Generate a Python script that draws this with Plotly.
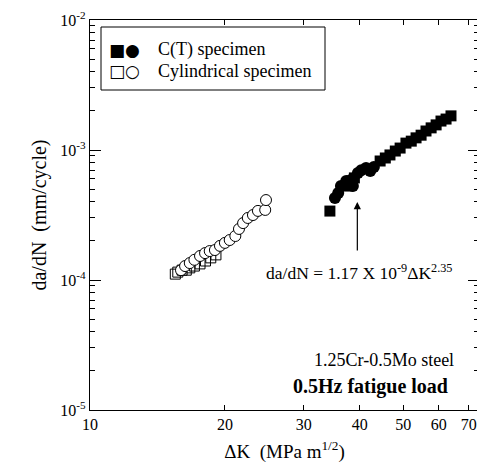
import plotly.graph_objects as go

# C(T) specimen (filled)
ct_sq_x = [34.3, 37.6, 38.9, 44.4, 45.6, 46.7, 48.0, 49.2, 50.7, 52.1, 53.4, 54.8, 56.2, 57.7, 59.2, 60.7, 62.3, 63.9]
ct_sq_y = [3.39e-4, 5.28e-4, 6.1e-4, 8.23e-4, 8.68e-4, 9.16e-4, 9.82e-4, 1.035e-3, 1.13e-3, 1.17e-3, 1.24e-3, 1.30e-3, 1.40e-3, 1.48e-3, 1.56e-3, 1.67e-3, 1.73e-3, 1.83e-3]
ct_ci_x = [35.2, 35.8, 36.3, 37.3, 38.2, 38.6, 39.6, 40.3, 41.3, 42.2, 43.0]
ct_ci_y = [4.28e-4, 4.67e-4, 5.28e-4, 5.78e-4, 5.88e-4, 5.28e-4, 6.65e-4, 7.0e-4, 7.27e-4, 6.89e-4, 7.4e-4]

# Cylindrical specimen (open)
cy_sq_x = [15.5, 15.7, 16.05, 16.4, 16.7, 17.1, 17.6, 18.1, 18.6, 19.1]
cy_sq_y = [1.11e-4, 1.15e-4, 1.19e-4, 1.19e-4, 1.24e-4, 1.28e-4, 1.33e-4, 1.40e-4, 1.48e-4, 1.56e-4]
cy_ci_x = [15.96, 16.3, 16.7, 17.1, 17.6, 18.06, 18.5, 19.0, 19.5, 20.0, 20.5, 21.1, 21.5, 21.96, 22.5, 23.1, 23.7, 24.6, 24.7]
cy_ci_y = [1.19e-4, 1.28e-4, 1.35e-4, 1.43e-4, 1.53e-4, 1.61e-4, 1.67e-4, 1.70e-4, 1.83e-4, 1.93e-4, 2.03e-4, 2.18e-4, 2.47e-4, 2.74e-4, 3.0e-4, 3.16e-4, 3.4e-4, 3.46e-4, 4.12e-4]

x_ticks = [10, 20, 30, 40, 50, 60, 70]
y_ticks = [1e-5, 1e-4, 1e-3, 1e-2]
y_ticktext = ["10<sup>-5</sup>", "10<sup>-4</sup>", "10<sup>-3</sup>", "10<sup>-2</sup>"]
y_minor = [m * 10.0 ** e for e in (-5, -4, -3) for m in range(2, 10)]

FONT = "Liberation Serif"
L, R, T, B = 82, 471, 12, 402
PW, PH = R - L, B - T


def px(xp):
    return (xp - L) / PW


def py(yp):
    return (B - yp) / PH


fig = go.Figure()
fig.add_trace(go.Scatter(x=cy_sq_x, y=cy_sq_y, mode="markers",
                         marker=dict(symbol="square-open", size=10, color="black", line=dict(width=1))))
fig.add_trace(go.Scatter(x=cy_ci_x, y=cy_ci_y, mode="markers",
                         marker=dict(symbol="circle", size=11, color="white", line=dict(width=1, color="black"))))
fig.add_trace(go.Scatter(x=ct_sq_x, y=ct_sq_y, mode="markers",
                         marker=dict(symbol="square", size=11, color="black")))
fig.add_trace(go.Scatter(x=ct_ci_x, y=ct_ci_y, mode="markers",
                         marker=dict(symbol="circle", size=12, color="black")))

fig.update_layout(
    width=485, height=471,
    margin=dict(l=L, r=485 - R, t=T, b=471 - B),
    paper_bgcolor="white", plot_bgcolor="white",
    showlegend=False,
    font=dict(family=FONT, color="black", size=16),
)
fig.update_xaxes(type="log", range=[1, 1.868], tickvals=x_ticks, ticktext=[str(v) for v in x_ticks],
                 ticks="inside", ticklen=5, tickcolor="black", showgrid=False, zeroline=False,
                 showline=True, linecolor="black", linewidth=1.2, mirror="ticks", automargin=False,
                 tickfont=dict(size=16, family=FONT),
                 title=dict(text="ΔK  (MPa m<sup>1/2</sup>)", font=dict(size=19, family=FONT), standoff=12))
fig.update_yaxes(type="log", range=[-5, -2], tickvals=y_ticks, ticktext=y_ticktext,
                 ticks="inside", ticklen=11, tickcolor="black", showgrid=False, zeroline=False,
                 showline=True, linecolor="black", linewidth=1.2, mirror="ticks", automargin=False,
                 minor=dict(tickvals=y_minor, ticks="inside", ticklen=5, tickcolor="black", showgrid=False),
                 tickfont=dict(size=16, family=FONT),
                 title=dict(text="da/dN  (mm/cycle)", font=dict(size=20, family=FONT), standoff=8))

# legend box
fig.add_shape(type="rect", xref="paper", yref="paper",
              x0=px(93), x1=px(317), y0=py(82), y1=py(19),
              line=dict(color="black", width=1), fillcolor="white")
for glyph, gx, gy in [("■", 109, 42), ("●", 124, 42), ("□", 109, 63), ("○", 124, 63)]:
    fig.add_annotation(xref="paper", yref="paper", x=px(gx), y=py(gy), text=glyph, showarrow=False,
                       xanchor="center", yanchor="middle", font=dict(size=17, family="DejaVu Sans"))
fig.add_annotation(xref="paper", yref="paper", x=px(148), y=py(42),
                   text="C(T) specimen", showarrow=False, xanchor="left", yanchor="middle", font=dict(size=18))
fig.add_annotation(xref="paper", yref="paper", x=px(148), y=py(63),
                   text="Cylindrical specimen", showarrow=False, xanchor="left", yanchor="middle", font=dict(size=18))

# fit annotation with arrow
fig.add_annotation(x=1.5965, y=-3.40, xref="x", yref="y", ax=0, ay=50,
                   text="", showarrow=True, arrowhead=2, arrowsize=1.2, arrowwidth=1.2, arrowcolor="black")
fig.add_annotation(xref="paper", yref="paper", x=px(351), y=py(264),
                   text="da/dN = 1.17 X 10<sup>-9</sup>ΔK<sup>2.35</sup>", showarrow=False,
                   xanchor="center", yanchor="middle", font=dict(size=17.5))

fig.add_annotation(xref="paper", yref="paper", x=px(448), y=py(352),
                   text="1.25Cr-0.5Mo steel", showarrow=False, xanchor="right", yanchor="middle",
                   font=dict(size=18))
fig.add_annotation(xref="paper", yref="paper", x=px(442), y=py(378),
                   text="<b>0.5Hz fatigue load</b>", showarrow=False, xanchor="right", yanchor="middle",
                   font=dict(size=20))

fig.write_html("out.html")
